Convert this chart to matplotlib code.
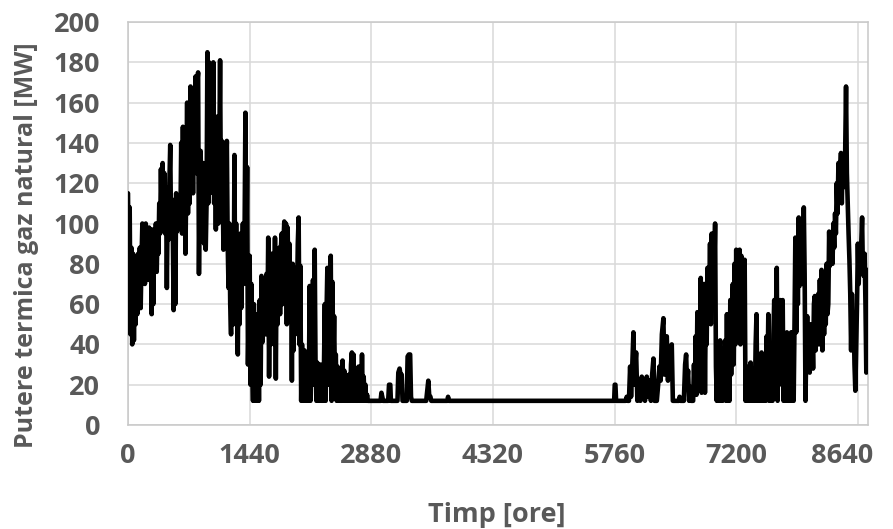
import matplotlib
matplotlib.use("Agg")
import matplotlib.pyplot as plt
from matplotlib.transforms import ScaledTranslation

# valori orare (MW), din 10 in 10 ore pe zonele dense
ore_iarna = list(range(0, 1440, 10))
mw_iarna = [
    115, 62, 108, 45, 88, 40, 85, 42, 80, 50, 78, 55,
    85, 60, 88, 58, 82, 100, 72, 98, 70, 100, 75, 96,
    72, 98, 80, 92, 55, 97, 60, 95, 78, 100, 76, 98,
    85, 110, 95, 127, 100, 130, 97, 125, 95, 118, 68, 110,
    92, 120, 139, 95, 112, 98, 57, 110, 60, 115, 96, 112,
    98, 114, 100, 140, 95, 148, 100, 130, 85, 120, 160, 105,
    150, 110, 168, 120, 160, 115, 165, 130, 173, 125, 170, 175,
    75, 120, 136, 100, 105, 130, 90, 125, 87, 110, 185, 110,
    180, 115, 160, 120, 140, 180, 110, 150, 97, 153, 120, 100,
    130, 181, 110, 141, 120, 87, 140, 100, 120, 141, 90, 68,
    100, 60, 45, 90, 70, 50, 134, 55, 100, 60, 35, 90,
    50, 95, 58, 80, 100, 70, 95, 155, 80, 128, 30, 60,
]

ore_primavara = list(range(1440, 2880, 10))
mw_primavara = [
    84, 20, 70, 30, 12, 60, 12, 55, 20, 12, 55, 12,
    62, 20, 74, 41, 72, 45, 70, 45, 75, 50, 93, 24,
    70, 40, 85, 45, 80, 40, 93, 23, 85, 50, 70, 88,
    55, 88, 95, 60, 90, 101, 65, 100, 50, 98, 60, 90,
    55, 80, 22, 80, 37, 78, 45, 75, 60, 90, 103, 40,
    79, 12, 40, 20, 12, 37, 12, 25, 12, 30, 12, 69,
    12, 60, 30, 72, 20, 87, 30, 12, 31, 12, 24, 12,
    30, 12, 20, 12, 30, 60, 12, 55, 78, 20, 65, 70,
    84, 12, 71, 30, 54, 20, 35, 12, 29, 12, 24, 12,
    20, 12, 32, 12, 27, 12, 25, 12, 20, 12, 25, 12,
    30, 36, 12, 35, 12, 28, 12, 20, 12, 29, 12, 24,
    12, 35, 12, 24, 12, 20, 12, 15, 12, 12, 12, 12,
]

# vara si inceputul toamnei: (ora, MW), doar varfurile mici peste minimul de 12 MW
vara = [
    (2990, 12), (3000, 16), (3010, 14), (3020, 12), (3080, 12), (3090, 20), (3105, 20),
    (3112, 12), (3190, 12), (3200, 26), (3215, 28), (3230, 24), (3240, 25), (3250, 12),
    (3300, 12), (3310, 34), (3325, 35), (3340, 35), (3350, 14), (3360, 12), (3530, 12),
    (3545, 18), (3555, 22), (3565, 15), (3580, 14), (3590, 12), (3780, 12), (3789, 14),
    (3798, 12), (5755, 12), (5762, 20), (5770, 20), (5778, 12),
    (5890, 12), (5904, 14), (5915, 12), (5930, 12), (5944, 29), (5955, 14), (5970, 30),
    (5983, 46), (5995, 20), (6005, 30), (6015, 36), (6030, 12), (6042, 20), (6054, 22),
    (6066, 12), (6082, 24), (6096, 14), (6109, 15), (6120, 12), (6130, 22), (6141, 24),
    (6155, 14), (6168, 22), (6180, 22), (6190, 12), (6205, 25), (6220, 33), (6232, 12),
    (6260, 12), (6276, 20), (6291, 29), (6305, 22), (6320, 45), (6338, 53), (6350, 25),
    (6362, 44), (6378, 44), (6392, 22), (6410, 38), (6437, 40), (6450, 12), (6520, 12),
    (6530, 14), (6540, 12), (6580, 12), (6595, 30), (6607, 35), (6618, 20), (6630, 27),
    (6642, 12), (6655, 19), (6665, 12), (6680, 12),
]
ore_vara = [p[0] for p in vara]
mw_vara = [p[1] for p in vara]

ore_toamna = list(range(6690, 7890, 10))
mw_toamna = [
    12, 30, 15, 44, 15, 56, 20, 50, 25, 73, 16, 67,
    22, 70, 16, 60, 40, 78, 55, 60, 90, 50, 95, 60,
    95, 75, 100, 29, 12, 40, 12, 30, 42, 12, 38, 12,
    38, 20, 42, 12, 55, 12, 40, 12, 62, 25, 55, 70,
    30, 80, 40, 87, 45, 85, 50, 87, 40, 84, 45, 82,
    49, 82, 12, 29, 12, 25, 12, 20, 31, 12, 28, 12,
    28, 12, 40, 55, 12, 30, 12, 25, 12, 36, 12, 30,
    12, 30, 12, 44, 20, 55, 12, 35, 12, 30, 12, 45,
    62, 24, 55, 78, 12, 50, 20, 62, 52, 30, 62, 12,
    40, 12, 30, 46, 12, 35, 12, 30, 46, 12, 46, 12,
]

ore_decembrie = list(range(7890, 8770, 10))
mw_decembrie = [
    50, 93, 46, 85, 60, 103, 69, 90, 75, 98, 70, 108,
    75, 12, 40, 54, 30, 45, 26, 50, 36, 45, 28, 60,
    64, 37, 60, 45, 65, 40, 72, 50, 77, 37, 66, 45,
    70, 50, 80, 55, 60, 96, 79, 90, 95, 80, 100, 88,
    105, 95, 120, 105, 130, 115, 125, 135, 110, 132, 118, 130,
    136, 168, 125, 110, 95, 82, 65, 37, 65, 45, 55, 30,
    17, 40, 60, 90, 70, 85, 75, 90, 103, 75, 74, 85,
    60, 26, 60, 77,
]

x_ticks = [0, 1440, 2880, 4320, 5760, 7200, 8640]
y_ticks = list(range(0, 201, 20))

ore = ore_iarna + ore_primavara + ore_vara + ore_toamna + ore_decembrie
putere = mw_iarna + mw_primavara + mw_vara + mw_toamna + mw_decembrie

gri_text = "#595959"
gri_grila = "#d9d9d9"

plt.rcParams["font.family"] = ["Open Sans", "DejaVu Sans"]
plt.rcParams["font.weight"] = "bold"

fig = plt.figure(figsize=(8.93, 5.29), dpi=100)
ax = fig.add_axes([128 / 893, 1 - 425 / 529, 740 / 893, 403 / 529])

ax.plot(ore, putere, color="black", linewidth=3.3, solid_joinstyle="round",
        solid_capstyle="round", zorder=3)

ax.set_xlim(0, 8760)
ax.set_ylim(0, 200)
ax.set_xticks(x_ticks)
ax.set_yticks(y_ticks)
ax.grid(True, color=gri_grila, linewidth=1.1, zorder=0)
ax.set_axisbelow(True)
for s in ax.spines.values():
    s.set_color("#c8c8c8")
    s.set_linewidth(1.1)

ax.tick_params(length=0, labelsize=19.5, labelcolor=gri_text)
ax.tick_params(axis="y", pad=20)
ax.tick_params(axis="x", pad=13)
for lab in ax.get_xticklabels() + ax.get_yticklabels():
    lab.set_fontweight("bold")

# ultima eticheta (8640) este impinsa spre stanga ca sa incapa, ca in Excel
ultima = ax.xaxis.get_major_ticks()[-1].label1
ultima.set_transform(ultima.get_transform() + ScaledTranslation(-0.16, 0, fig.dpi_scale_trans))

fig.text(497 / 893, 1 - 515 / 529, "Timp [ore]", ha="center", va="center",
         fontsize=19.5, fontweight="bold", color=gri_text)
fig.text(27 / 893, 1 - 245 / 529, "Putere termica gaz natural [MW]", ha="center",
         va="center", rotation=90, fontsize=18, fontweight="bold", color=gri_text)

fig.savefig("out.png", dpi=100)
